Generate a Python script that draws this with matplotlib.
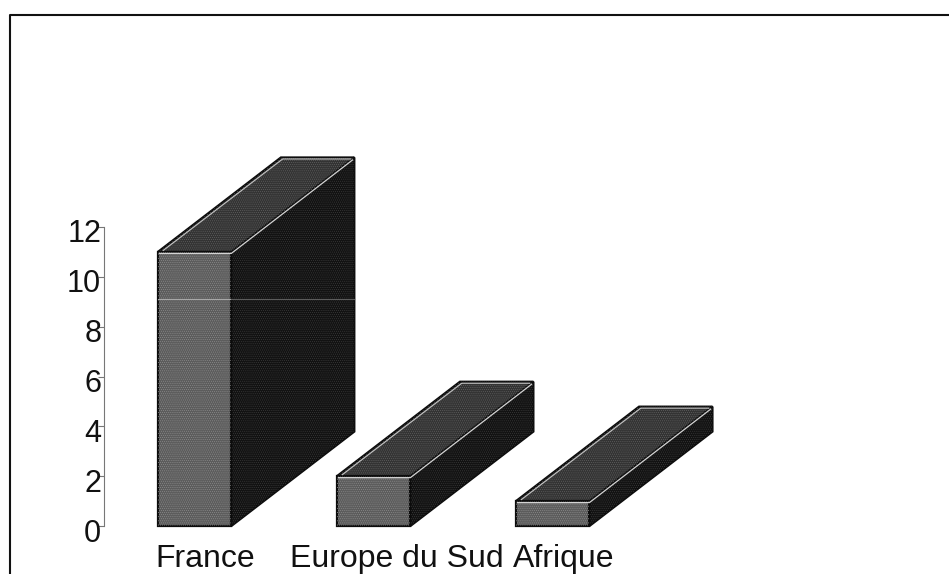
import matplotlib
matplotlib.use('Agg')
import matplotlib.pyplot as plt
from matplotlib.patches import Polygon
from matplotlib.transforms import ScaledTranslation

categories = ['France', 'Europe du Sud', 'Afrique']
values = [11, 2, 1]
yticks = [0, 2, 4, 6, 8, 10, 12]

W, H = 949, 574
bar_w = 0.41
depth_x = 0.687
depth_y = 3.79
label_shift = [0.06, 0.13, 0.06]
ink = '#0c0c0c'

plt.rcParams['font.family'] = ['Liberation Sans', 'DejaVu Sans']
plt.rcParams['hatch.linewidth'] = 0.4

fig = plt.figure(figsize=(W / 100, H / 100), dpi=100)

# page frame, the scan cuts off the right and bottom edges
bg = fig.add_axes([0, 0, 1, 1])
bg.set_xlim(0, W)
bg.set_ylim(H, 0)
bg.axis('off')
bg.plot([10, 10, W], [H, 15, 15], color='#111111', lw=1.5)

ax = fig.add_axes([104 / W, (H - 526) / H, 626 / W, 299 / H])
ax.patch.set_alpha(0)
ax.set_xlim(-0.506, 2.99)
ax.set_ylim(0, 12)


def face(pts, color, dots, z=2):
    ax.add_patch(Polygon(pts, facecolor=color, edgecolor=ink, lw=1.6, clip_on=False, zorder=z))
    ax.add_patch(Polygon(pts, facecolor='none', edgecolor=dots, lw=0, hatch='........', clip_on=False, zorder=z))


for i, v in enumerate(values):
    x0 = i - bar_w / 2
    x1 = i + bar_w / 2
    top = [(x0, v), (x1, v), (x1 + depth_x, v + depth_y), (x0 + depth_x, v + depth_y)]
    side = [(x1, 0), (x1 + depth_x, depth_y), (x1 + depth_x, v + depth_y), (x1, v)]
    front = [(x0, 0), (x1, 0), (x1, v), (x0, v)]
    face(side, '#121212', '#3c3c3c')
    face(top, '#333333', '#626262')
    face(front, '#5c5c5c', '#8c8c8c', z=3)
    # light edges just inside the black outline
    ax.plot([x0 + 0.008, x1, x1 + depth_x - 0.01], [v - 0.06, v - 0.06, v + depth_y - 0.1], color='#d4d4d4', lw=0.9, zorder=4, clip_on=False)
    ax.plot([x0 + 0.03, x0 + depth_x + 0.01, x1 + depth_x - 0.02], [v + 0.06, v + depth_y - 0.06, v + depth_y - 0.06], color='#c4c4c4', lw=0.8, zorder=4, clip_on=False)

# faint scan line across the tall bar
ax.plot([-bar_w / 2, bar_w / 2], [9.12, 9.12], color='#a8a8a8', lw=0.8, zorder=5)
ax.plot([bar_w / 2, bar_w / 2 + depth_x], [9.12, 9.12], color='#5c5c5c', lw=0.8, zorder=5, clip_on=False)

for s in ['top', 'right', 'bottom']:
    ax.spines[s].set_visible(False)
ax.spines['left'].set_color('#777777')
ax.spines['left'].set_linewidth(0.8)
ax.set_yticks(yticks)
ax.tick_params(axis='y', length=4, width=0.8, color='#777777', labelsize=22, pad=-2, labelcolor='#111111')
shift = ScaledTranslation(0, -4 / 100, fig.dpi_scale_trans)
for lab in ax.get_yticklabels():
    lab.set_transform(lab.get_transform() + shift)

ax.set_xticks([])
for i, name in enumerate(categories):
    ax.text(i + label_shift[i], -1.66, name, ha='center', va='baseline', fontsize=23, color='#111111', clip_on=False)

fig.savefig('out.png', dpi=100)
